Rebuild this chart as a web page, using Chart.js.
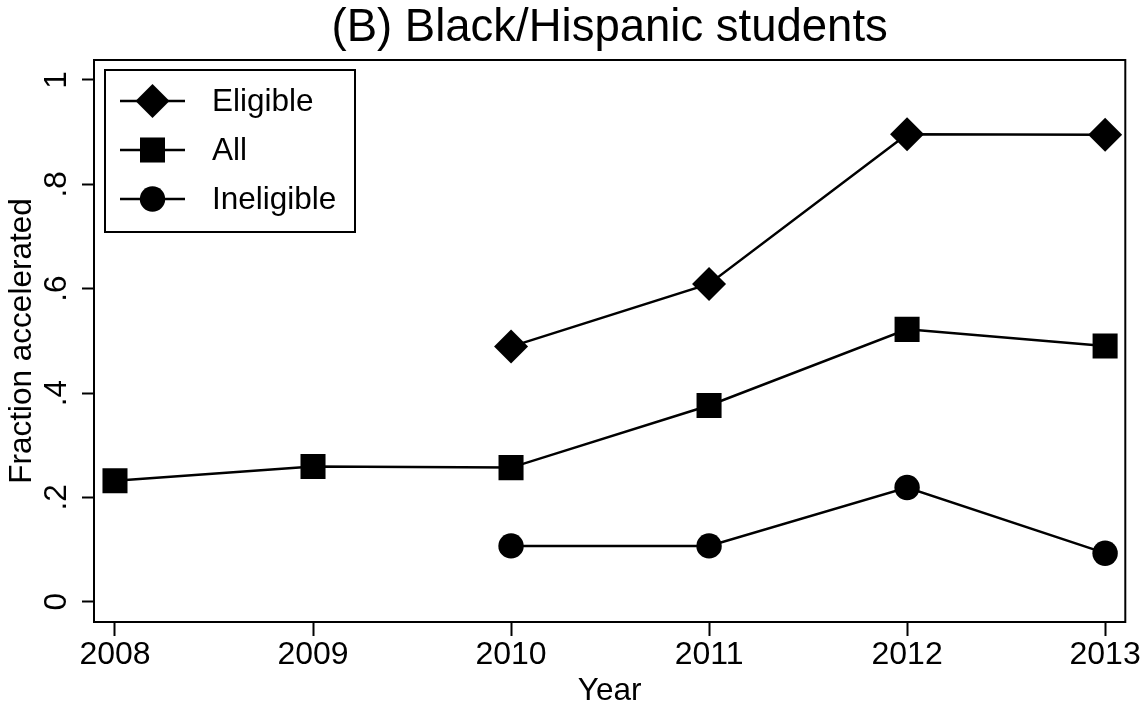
<!DOCTYPE html>
<html>
<head>
<meta charset="utf-8">
<script src="https://cdn.jsdelivr.net/npm/chart.js@4.4.0/dist/chart.umd.min.js"></script>
<style>
  html, body { margin: 0; padding: 0; background: #ffffff; }
  #wrap { width: 1143px; height: 709px; }
</style>
</head>
<body>
<div id="wrap"><canvas id="chart" width="1143" height="709"></canvas></div>
<script>
// Share of students accelerated, by year
const years = [2008, 2009, 2010, 2011, 2012, 2013];
const eligible = [null, null, 0.489, 0.609, 0.896, 0.895];
const all = [0.232, 0.259, 0.257, 0.376, 0.522, 0.490];
const ineligible = [null, null, 0.107, 0.107, 0.219, 0.093];

const yTickValues = [0, 0.2, 0.4, 0.6, 0.8, 1];
const yTickLabels = ['0', '.2', '.4', '.6', '.8', '1'];
const seriesNames = ['Eligible', 'All', 'Ineligible'];

const FONT = '"Liberation Sans", Arial, Helvetica, sans-serif';
const INK = '#000000';

function toPoints(values) {
  return years.map((yr, i) => ({ x: yr, y: values[i] }));
}

function series(label, values, style, radius) {
  return {
    label: label,
    data: toPoints(values),
    borderColor: INK,
    borderWidth: 2.5,
    backgroundColor: INK,
    pointStyle: style,
    pointRadius: radius,
    pointHoverRadius: radius,
    pointBackgroundColor: INK,
    pointBorderWidth: 0,
    fill: false,
    tension: 0,
    spanGaps: false
  };
}

// Box around the plot region
const frame = {
  id: 'frame',
  beforeDatasetsDraw(chart) {
    const { ctx, chartArea: a } = chart;
    ctx.save();
    ctx.strokeStyle = INK;
    ctx.lineWidth = 2;
    ctx.strokeRect(a.left, a.top, a.right - a.left, a.bottom - a.top);
    ctx.restore();
  }
};

// Vertical y tick labels
const verticalYLabels = {
  id: 'verticalYLabels',
  afterDraw(chart) {
    const { ctx } = chart;
    const ys = chart.scales.y;
    ctx.save();
    ctx.fillStyle = INK;
    ctx.font = '31.5px ' + FONT;
    ctx.textAlign = 'center';
    ctx.textBaseline = 'alphabetic';
    ys.ticks.forEach((t, i) => {
      const py = ys.getPixelForValue(t.value);
      ctx.save();
      ctx.translate(ys.right - 28, py);
      ctx.rotate(-Math.PI / 2);
      ctx.fillText(yTickLabels[i], 0, 0);
      ctx.restore();
    });
    ctx.restore();
  }
};

// Legend inside the plot: line through marker, then the series name
const insideLegend = {
  id: 'insideLegend',
  afterDraw(chart) {
    const { ctx, chartArea: a } = chart;
    const left = a.left + 11, top = a.top + 10;
    const width = 250, height = 162;
    const rowY = [31, 80, 129];
    ctx.save();
    ctx.fillStyle = '#ffffff';
    ctx.fillRect(left, top, width, height);
    ctx.strokeStyle = INK;
    ctx.lineWidth = 2;
    ctx.strokeRect(left, top, width, height);
    chart.data.datasets.forEach((ds, i) => {
      const y = top + rowY[i];
      ctx.beginPath();
      ctx.moveTo(left + 15, y);
      ctx.lineTo(left + 80, y);
      ctx.strokeStyle = INK;
      ctx.lineWidth = 2.5;
      ctx.stroke();
      ctx.fillStyle = INK;
      Chart.helpers.drawPoint(ctx, {
        pointStyle: ds.pointStyle,
        radius: ds.pointRadius,
        rotation: 0,
        borderWidth: 0
      }, left + 47.5, y);
      ctx.fillStyle = INK;
      ctx.font = '31.5px ' + FONT;
      ctx.textAlign = 'left';
      ctx.textBaseline = 'middle';
      ctx.fillText(ds.label, left + 107, y + 1);
    });
    ctx.restore();
  }
};

new Chart(document.getElementById('chart'), {
  type: 'line',
  data: {
    datasets: [
      series(seriesNames[0], eligible, 'rectRot', 17),
      series(seriesNames[1], all, 'rect', 17.7),
      series(seriesNames[2], ineligible, 'circle', 12.7)
    ]
  },
  options: {
    responsive: false,
    animation: false,
    devicePixelRatio: 1,
    events: [],
    layout: { padding: { left: 0, right: 16, top: 0, bottom: 0 } },
    plugins: {
      legend: { display: false },
      title: { display: false },
      tooltip: { enabled: false }
    },
    scales: {
      x: {
        type: 'linear',
        position: 'bottom',
        min: 2007.894,
        max: 2013.102,
        afterBuildTicks(scale) { scale.ticks = years.map(v => ({ value: v })); },
        afterFit(scale) { scale.height = 87; },
        ticks: {
          color: INK,
          font: { family: FONT, size: 32 },
          padding: 0,
          maxRotation: 0,
          minRotation: 0,
          autoSkip: false,
          callback: v => String(v)
        },
        grid: {
          display: true,
          drawOnChartArea: false,
          drawTicks: true,
          tickLength: 14,
          tickWidth: 2,
          tickColor: INK
        },
        border: { display: true, color: INK, width: 2 },
        title: {
          display: true,
          text: 'Year',
          color: INK,
          font: { family: FONT, size: 31.5 },
          padding: { top: 0, bottom: -1 }
        }
      },
      top: {
        type: 'linear',
        position: 'top',
        min: 2007.894,
        max: 2013.102,
        afterFit(scale) { scale.height = 60; },
        ticks: { display: false },
        grid: { display: false, drawTicks: false },
        border: { display: false },
        title: {
          display: true,
          text: '(B) Black/Hispanic students',
          color: INK,
          font: { family: FONT, size: 45.5 },
          padding: { top: 1.5, bottom: 0 }
        }
      },
      y: {
        type: 'linear',
        position: 'left',
        min: -0.0389,
        max: 1.0383,
        afterBuildTicks(scale) { scale.ticks = yTickValues.map(v => ({ value: v })); },
        afterFit(scale) { scale.width = 94; },
        ticks: {
          color: 'rgba(0,0,0,0)',
          font: { family: FONT, size: 31 },
          padding: 4,
          callback: (v, i) => yTickLabels[i]
        },
        grid: {
          display: true,
          drawOnChartArea: false,
          drawTicks: true,
          tickLength: 12,
          tickWidth: 2,
          tickColor: INK
        },
        border: { display: true, color: INK, width: 2 },
        title: {
          display: true,
          text: 'Fraction accelerated',
          color: INK,
          font: { family: FONT, size: 31.5 },
          padding: { top: 3.4, bottom: 0 }
        }
      }
    }
  },
  plugins: [frame, verticalYLabels, insideLegend]
});
</script>
</body>
</html>
